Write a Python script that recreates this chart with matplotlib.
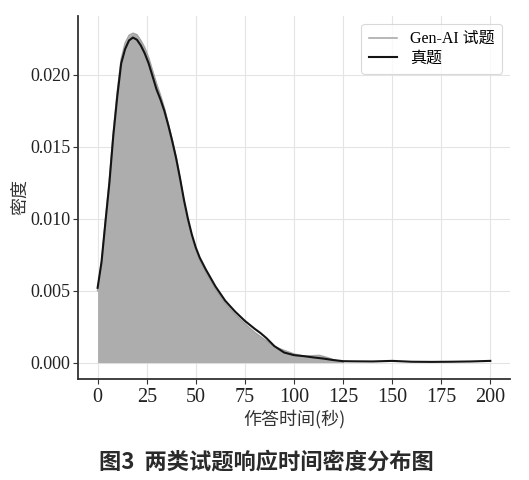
import matplotlib
matplotlib.use("Agg")
import matplotlib.pyplot as plt

# ── Dữ liệu (mật độ × 1e-3) ─────────────────────────────────────────
real_x = [0, 2, 4, 6, 8, 10, 12, 14, 16, 18, 20, 22, 24, 26, 28, 30, 32, 34,
          36, 38, 40, 42, 44, 46, 48, 50, 52, 55, 60, 65, 70, 75, 80, 83, 86,
          90, 95, 100, 105, 110, 115, 120, 125, 130, 140, 150, 160, 170, 180,
          190, 200]
real_y = [5.2, 7.0, 9.8, 12.5, 15.8, 18.5, 20.8, 21.8, 22.4, 22.6, 22.45,
          22.05, 21.5, 20.8, 19.9, 19.0, 18.3, 17.5, 16.5, 15.4, 14.2, 12.8,
          11.3, 10.0, 8.9, 8.0, 7.3, 6.5, 5.3, 4.3, 3.55, 2.9, 2.35, 2.05, 1.7,
          1.15, 0.7, 0.52, 0.45, 0.36, 0.28, 0.18, 0.10, 0.09, 0.08, 0.12,
          0.06, 0.05, 0.06, 0.08, 0.12]

genai_x = [0, 2, 4, 6, 8, 10, 12, 14, 16, 18, 20, 22, 24, 26, 28, 30, 32, 34,
           36, 38, 40, 42, 44, 46, 48, 50, 52, 55, 60, 65, 70, 75, 80, 85, 90,
           95, 100, 105, 110, 113, 117, 120, 123, 125]
genai_y = [5.0, 7.0, 9.9, 12.7, 16.0, 18.8, 21.1, 22.2, 22.75, 22.9, 22.8,
           22.4, 21.9, 21.2, 20.3, 19.4, 18.6, 17.7, 16.6, 15.5, 14.3, 12.8,
           11.2, 9.9, 8.8, 7.9, 7.1, 6.3, 5.1, 4.1, 3.35, 2.7, 2.1, 1.6, 1.1,
           0.85, 0.6, 0.45, 0.48, 0.5, 0.35, 0.2, 0.08, 0.02]

x_ticks = [0, 25, 50, 75, 100, 125, 150, 175, 200]
y_ticks = [0.000, 0.005, 0.010, 0.015, 0.020]

SERIF = ["Liberation Serif", "Noto Sans CJK SC"]
CJK = ["Noto Sans CJK SC", "Liberation Serif"]

fig = plt.figure(figsize=(5.29, 4.8), dpi=100)
ax = fig.add_axes([0.1474, 0.2104, 0.8166, 0.7563])

gy = [v / 1000 for v in genai_y]
ry = [v / 1000 for v in real_y]

# Gen-AI: vùng tô + đường xám
ax.fill_between(genai_x, 0, gy, color="#adadad", linewidth=0, zorder=2)
ax.plot(genai_x, gy, color="#a3a3a3", linewidth=1.1, label="Gen-AI 试题", zorder=3)
# Đề thật: đường đen
ax.plot(real_x, ry, color="#141414", linewidth=1.5, label="真题", zorder=4)

ax.set_xlim(-10, 210)
ax.set_ylim(-0.00114, 0.0241)
ax.set_xticks(x_ticks)
ax.set_yticks(y_ticks)
ax.set_xticklabels([str(t) for t in x_ticks], family=SERIF, fontsize=14.5)
ax.set_yticklabels([f"{t:.3f}" for t in y_ticks], family=SERIF, fontsize=13)
ax.tick_params(direction="out", length=3.5, width=0.8, color="#333333",
               labelcolor="#222222")
ax.tick_params(axis="x", pad=3)
ax.tick_params(axis="y", pad=2)

ax.grid(True, color="#e4e4e4", linewidth=0.8, zorder=0)
ax.set_axisbelow(True)
for side in ["top", "right"]:
    ax.spines[side].set_visible(False)
for side in ["left", "bottom"]:
    ax.spines[side].set_color("#333333")
    ax.spines[side].set_linewidth(1.3)

ax.set_xlabel("作答时间(秒)", family=CJK, fontsize=13, color="#333333", labelpad=2)
ax.set_ylabel("密度", family=CJK, fontsize=13, color="#333333", labelpad=1)

leg = ax.legend(loc="upper right", prop={"family": SERIF, "size": 11.5},
                frameon=True, fancybox=True, handlelength=1.8,
                borderpad=0.45, labelspacing=0.2, handletextpad=0.8,
                borderaxespad=0.5)
leg.get_frame().set_edgecolor("#d0d0d0")
leg.get_frame().set_linewidth(0.8)

fig.text(0.503, 0.038, "图3  两类试题响应时间密度分布图", ha="center", va="center",
         family=CJK, fontsize=16, fontweight="bold", color="#2a2a2a")

fig.savefig("out.png", dpi=100)
